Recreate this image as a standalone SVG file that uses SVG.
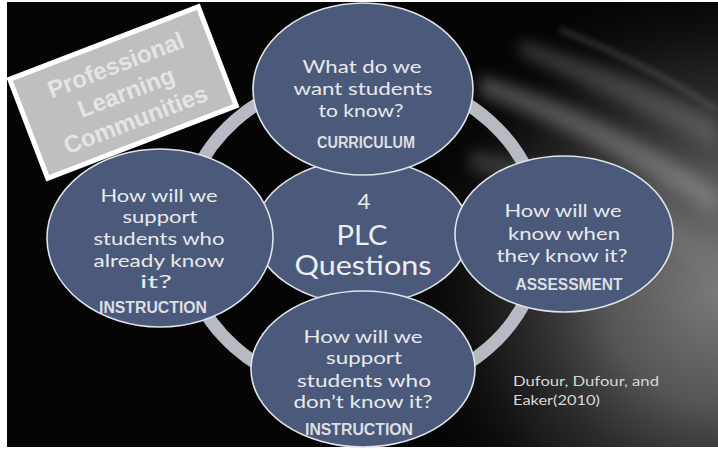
<svg xmlns="http://www.w3.org/2000/svg" width="718" height="449" viewBox="0 0 718 449">
  <defs>
    <radialGradient id="glow" cx="720" cy="290" r="330" gradientUnits="userSpaceOnUse">
      <stop offset="0" stop-color="#7a7a7a"/>
      <stop offset="0.35" stop-color="#555555"/>
      <stop offset="0.7" stop-color="#2a2a2a" stop-opacity="0.6"/>
      <stop offset="1" stop-color="#000000" stop-opacity="0"/>
    </radialGradient>
    <filter id="blur" x="-20%" y="-50%" width="140%" height="200%">
      <feGaussianBlur stdDeviation="7"/>
    </filter>
    <filter id="blur2" x="-20%" y="-50%" width="140%" height="200%">
      <feGaussianBlur stdDeviation="3"/>
    </filter>
    <style>
      .node { fill: #4b5a7b; stroke: #dfe3ea; stroke-width: 1.6; }
      .q { font-family: Lato, "Open Sans", sans-serif; font-size: 18px; fill: #e8e9ec; text-anchor: middle; }
      .big { font-family: Lato, "Open Sans", sans-serif; fill: #eceef2; text-anchor: middle; }
      .lab { font-family: "Liberation Sans", Arial, sans-serif; font-weight: bold; font-size: 16px; fill: #dcdfe5; text-anchor: middle; }
      .ref { font-family: Lato, "Open Sans", sans-serif; font-size: 14px; fill: #d6d6d6; }
      .title { font-family: "Liberation Sans", Arial, sans-serif; font-weight: bold; font-size: 24px; fill: #e4e4e4; text-anchor: middle; }
    </style>
  </defs>

  <!-- background -->
  <rect x="0" y="0" width="718" height="449" fill="#ffffff"/>
  <rect x="7" y="2" width="711" height="445" fill="#050505"/>
  <g id="background-swoosh">
    <rect x="7" y="2" width="711" height="445" fill="url(#glow)"/>
    <path d="M520 40 Q620 70 718 120 L718 150 Q620 100 520 55 Z" fill="#8a8a8a" opacity="0.35" filter="url(#blur)"/>
    <path d="M480 75 Q600 110 718 190 L718 215 Q600 140 480 95 Z" fill="#9a9a9a" opacity="0.45" filter="url(#blur)"/>
    <path d="M560 30 Q640 60 718 110" stroke="#9a9a9a" stroke-width="3" fill="none" opacity="0.45" filter="url(#blur2)"/>
    <path d="M470 150 Q600 170 718 250 L718 280 Q600 200 470 170 Z" fill="#7a7a7a" opacity="0.35" filter="url(#blur)"/>
  </g>

  <!-- connectors: ring -->
  <g id="connectors">
    <ellipse cx="362" cy="234" rx="180" ry="160" fill="none" stroke="#b7bac2" stroke-width="13"/>
  </g>

  <!-- label -->
  <g id="plc-label" transform="translate(123 92.5) rotate(-21)">
    <rect x="-101" y="-53" width="202" height="106" fill="#bfbfbf" stroke="#ffffff" stroke-width="5"/>
    <text class="title" x="3" y="-20">Professional</text>
    <text class="title" x="3" y="9">Learning</text>
    <text class="title" x="2" y="38">Communities</text>
  </g>

  <!-- center -->
  <g id="center">
    <ellipse class="node" cx="362" cy="232" rx="107" ry="72"/>
    <text class="big" x="364" y="209" font-size="22">4</text>
    <text class="big" x="362" y="245" font-size="26" textLength="51" lengthAdjust="spacingAndGlyphs">PLC</text>
    <text class="big" x="363" y="275" font-size="26" textLength="137" lengthAdjust="spacingAndGlyphs">Questions</text>
  </g>

  <!-- top -->
  <g id="curriculum">
    <ellipse class="node" cx="363" cy="89" rx="110" ry="86"/>
    <text class="q" x="362" y="73" textLength="119" lengthAdjust="spacingAndGlyphs">What do we</text>
    <text class="q" x="363" y="95" textLength="139" lengthAdjust="spacingAndGlyphs">want students</text>
    <text class="q" x="361" y="117" textLength="85" lengthAdjust="spacingAndGlyphs">to know?</text>
    <text class="lab" x="366" y="148" textLength="98" lengthAdjust="spacingAndGlyphs">CURRICULUM</text>
  </g>

  <!-- right -->
  <g id="assessment">
    <ellipse class="node" cx="564" cy="234" rx="109" ry="78"/>
    <text class="q" x="563" y="217" textLength="117" lengthAdjust="spacingAndGlyphs">How will we</text>
    <text class="q" x="564" y="240" textLength="112" lengthAdjust="spacingAndGlyphs">know when</text>
    <text class="q" x="562" y="262" textLength="131" lengthAdjust="spacingAndGlyphs">they know it?</text>
    <text class="lab" x="569" y="290" textLength="107" lengthAdjust="spacingAndGlyphs">ASSESSMENT</text>
  </g>

  <!-- left -->
  <g id="instruction-enrich">
    <ellipse class="node" cx="160" cy="238" rx="113" ry="89"/>
    <text class="q" x="159" y="202" textLength="117" lengthAdjust="spacingAndGlyphs">How will we</text>
    <text class="q" x="160" y="223" textLength="75" lengthAdjust="spacingAndGlyphs">support</text>
    <text class="q" x="159" y="245" textLength="131" lengthAdjust="spacingAndGlyphs">students who</text>
    <text class="q" x="159" y="267" textLength="131" lengthAdjust="spacingAndGlyphs">already know</text>
    <text class="q" x="156" y="288" textLength="32" lengthAdjust="spacingAndGlyphs">it?</text>
    <text class="lab" x="153" y="313" textLength="108" lengthAdjust="spacingAndGlyphs">INSTRUCTION</text>
  </g>

  <!-- bottom -->
  <g id="instruction-support">
    <ellipse class="node" cx="363" cy="369" rx="112" ry="78"/>
    <text class="q" x="363" y="343" textLength="119" lengthAdjust="spacingAndGlyphs">How will we</text>
    <text class="q" x="364" y="364" textLength="76" lengthAdjust="spacingAndGlyphs">support</text>
    <text class="q" x="364" y="387" textLength="134" lengthAdjust="spacingAndGlyphs">students who</text>
    <text class="q" x="363" y="408" textLength="139" lengthAdjust="spacingAndGlyphs">don’t know it?</text>
    <text class="lab" x="359" y="435" textLength="108" lengthAdjust="spacingAndGlyphs">INSTRUCTION</text>
  </g>

  <!-- citation -->
  <g id="citation">
    <text class="ref" x="513" y="386" textLength="146" lengthAdjust="spacingAndGlyphs">Dufour, Dufour, and</text>
    <text class="ref" x="513" y="405" textLength="87" lengthAdjust="spacingAndGlyphs">Eaker(2010)</text>
  </g>
</svg>
